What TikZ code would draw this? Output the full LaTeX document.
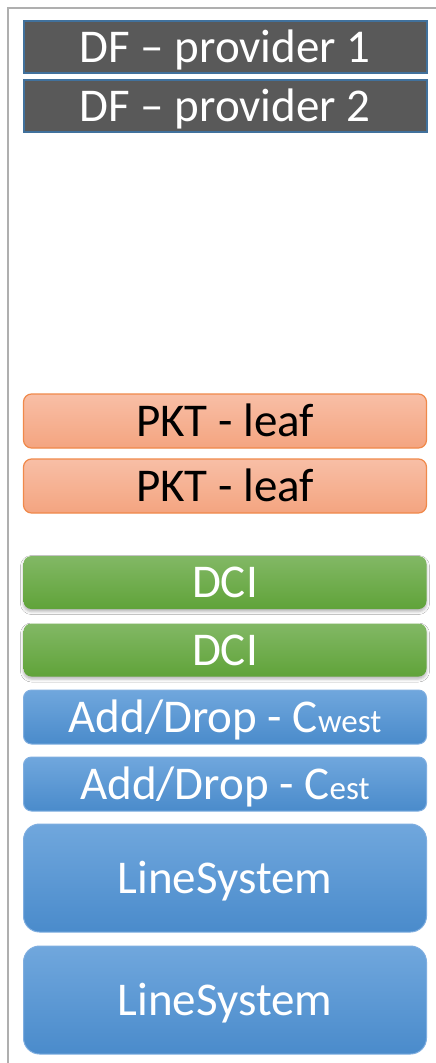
\documentclass[tikz,border=0pt]{standalone}
\usepackage{fontspec}
\setmainfont{Carlito}
\usetikzlibrary{shadows.blur}
\definecolor{frame}{HTML}{AFAFAF}
\definecolor{dffill}{HTML}{595959}
\definecolor{dfline}{HTML}{41719C}
\definecolor{pkttop}{HTML}{F8BFA6}
\definecolor{pktbot}{HTML}{F4A480}
\definecolor{pktline}{HTML}{F0894A}
\definecolor{dcitop}{HTML}{82B865}
\definecolor{dcibot}{HTML}{60A339}
\definecolor{bltop}{HTML}{70A7DD}
\definecolor{blbot}{HTML}{4A8BCB}
\definecolor{blline}{HTML}{7FAEE0}
\tikzset{
  x=1pt, y=-1pt,
  box/.style={rectangle, inner sep=0pt, minimum width=403pt, text height=30pt, text depth=0pt,
    font=\fontsize{47}{56}\selectfont},
  dfbox/.style={box, fill=dffill, draw=dfline, line width=2pt, text=white, minimum height=52pt},
  pktbox/.style={box, rounded corners=8pt, top color=pkttop, bottom color=pktbot, draw=pktline, line width=1.2pt, text=black, minimum height=54pt},
  dcibox/.style={box, rounded corners=8pt, top color=dcitop, bottom color=dcibot, draw=none, text=white, minimum height=53pt,
    blur shadow={shadow xshift=0pt, shadow yshift=-2.5pt, shadow blur radius=3pt, shadow blur extra rounding=2pt, shadow opacity=30}},
  adbox/.style={box, rounded corners=8pt, top color=bltop, bottom color=blbot, draw=blline, line width=1pt, text=white, minimum height=54pt},
  lsbox/.style={box, rounded corners=16pt, top color=bltop, bottom color=blbot, draw=blline, line width=1pt, text=white, minimum height=108pt},
}
\newcommand{\subtxt}[1]{{\fontsize{33}{33}\selectfont #1}}
\begin{document}
\begin{tikzpicture}
\useasboundingbox (0,0) rectangle (436,1063);
\fill[white] (0,0) rectangle (436,1063);
\draw[frame, line width=2.5pt] (436,8) -- (8,8) -- (8,1063);
\node[dfbox] (df1) at (225,47) {DF – provider 1};
\node[dfbox] (df2) at (225,106) {DF – provider 2};
\node[pktbox] (pkt1) at (225,421) {PKT - leaf};
\node[pktbox] (pkt2) at (225,486) {PKT - leaf};
\node[dcibox] (dci1) at (225,582.5) {DCI};
\node[dcibox] (dci2) at (225,650) {DCI};
\node[adbox] (ad1) at (225,717) {Add/Drop - C\subtxt{west}};
\node[adbox] (ad2) at (225,784) {Add/Drop - C\subtxt{est}};
\node[lsbox] (ls1) at (225,878) {LineSystem};
\node[lsbox] (ls2) at (225,1000) {LineSystem};
\end{tikzpicture}
\end{document}
